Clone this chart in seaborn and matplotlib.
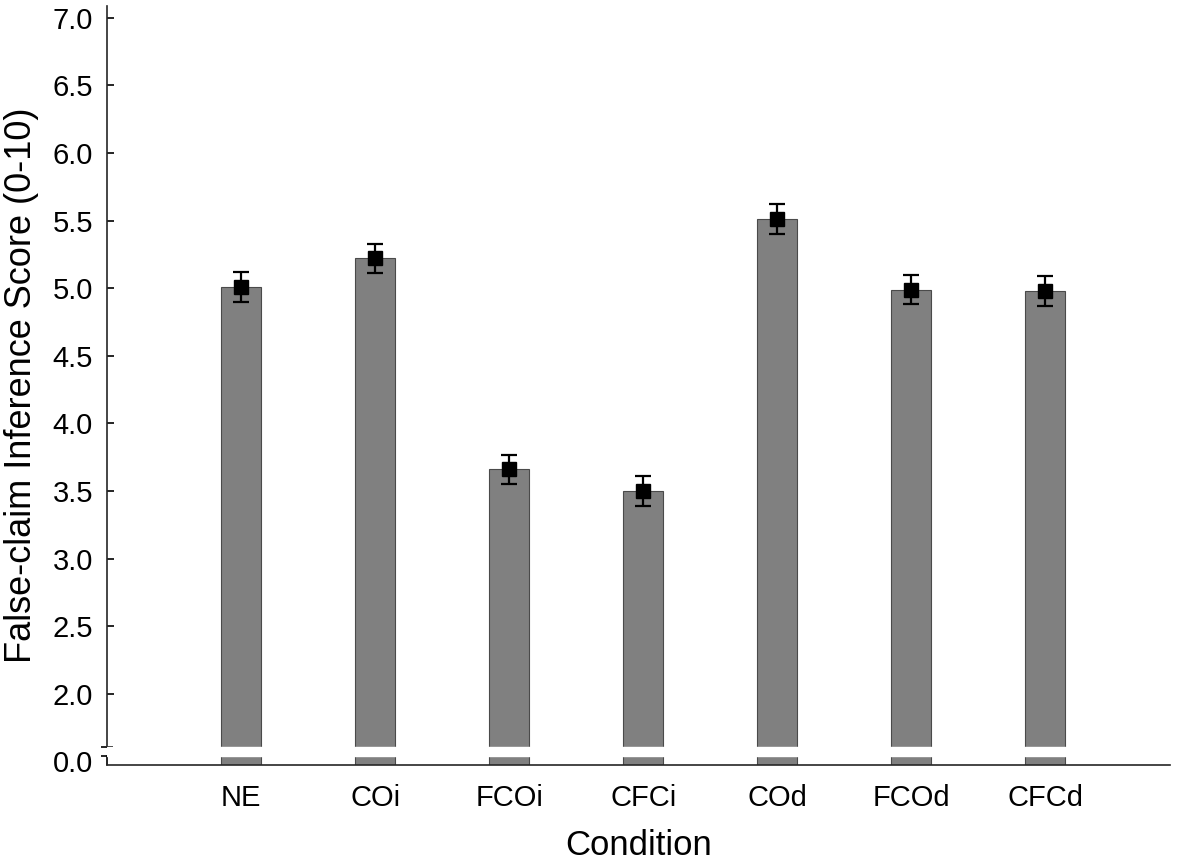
import numpy as np
import pandas as pd
import matplotlib
matplotlib.use("Agg")
import matplotlib.pyplot as plt
import seaborn as sns

conditions = ['NE', 'COi', 'FCOi', 'CFCi', 'COd', 'FCOd', 'CFCd']
scores = [5.01, 5.22, 3.66, 3.50, 5.51, 4.99, 4.98]
sems = [0.11, 0.11, 0.11, 0.11, 0.11, 0.11, 0.11]
ytick_vals = [2.0, 2.5, 3.0, 3.5, 4.0, 4.5, 5.0, 5.5, 6.0, 6.5, 7.0]

# broken axis: 0.0 is drawn just below the break
ZERO_POS = 1.475
BREAK_LO = 1.54
BREAK_HI = 1.61

sns.set_style('ticks')
plt.rcParams['font.family'] = ['Liberation Sans', 'DejaVu Sans']
plt.rcParams['text.color'] = 'black'
plt.rcParams['axes.labelcolor'] = 'black'
plt.rcParams['xtick.color'] = 'black'
plt.rcParams['ytick.color'] = 'black'

df = pd.DataFrame({'Condition': conditions, 'Score': scores})

fig = plt.figure(figsize=(11.81, 8.65), dpi=100)
ax = fig.add_axes([0.0906, 0.1156, 0.9001, 0.878])

sns.barplot(data=df, x='Condition', y='Score', color='#808080', saturation=1,
            width=0.3, edgecolor='#4a4a4a', linewidth=0.8, ax=ax)
ax.errorbar(np.arange(len(conditions)), scores, yerr=sems, fmt='s', color='black',
            markersize=10, ecolor='black', elinewidth=1.6, capsize=6, capthick=1.6, zorder=5)

ax.axhspan(BREAK_LO, BREAK_HI, color='white', zorder=4)

ax.set_xlim(-1.0, 6.93)
ax.set_ylim(ZERO_POS, 7.09)

ax.set_yticks([ZERO_POS + 0.03] + ytick_vals)
ax.set_yticklabels(['0.0'] + ['%.1f' % v for v in ytick_vals])
ax.set_yticks([BREAK_LO, BREAK_HI], minor=True)
ax.tick_params(axis='y', which='major', direction='in', length=5, width=1.2,
               labelsize=21, pad=10)
ax.tick_params(axis='y', which='minor', direction='inout', length=8, width=1.2)
ax.get_yticklines()[0].set_visible(False)
ax.get_yticklines()[1].set_visible(False)
ax.tick_params(axis='x', length=0, labelsize=21, pad=14)

sns.despine(ax=ax)
ax.spines['left'].set_bounds(BREAK_HI, 7.09)
ax.spines['left'].set_linewidth(1.2)
ax.spines['bottom'].set_linewidth(1.2)
ax.plot([-1.0, -1.0], [ZERO_POS, BREAK_LO], color='black', lw=1.2, clip_on=False)

ax.set_xlabel('Condition', fontsize=25, labelpad=12)
ax.set_ylabel('False-claim Inference Score (0-10)', fontsize=26, labelpad=10)

fig.savefig('out.png', dpi=100)
